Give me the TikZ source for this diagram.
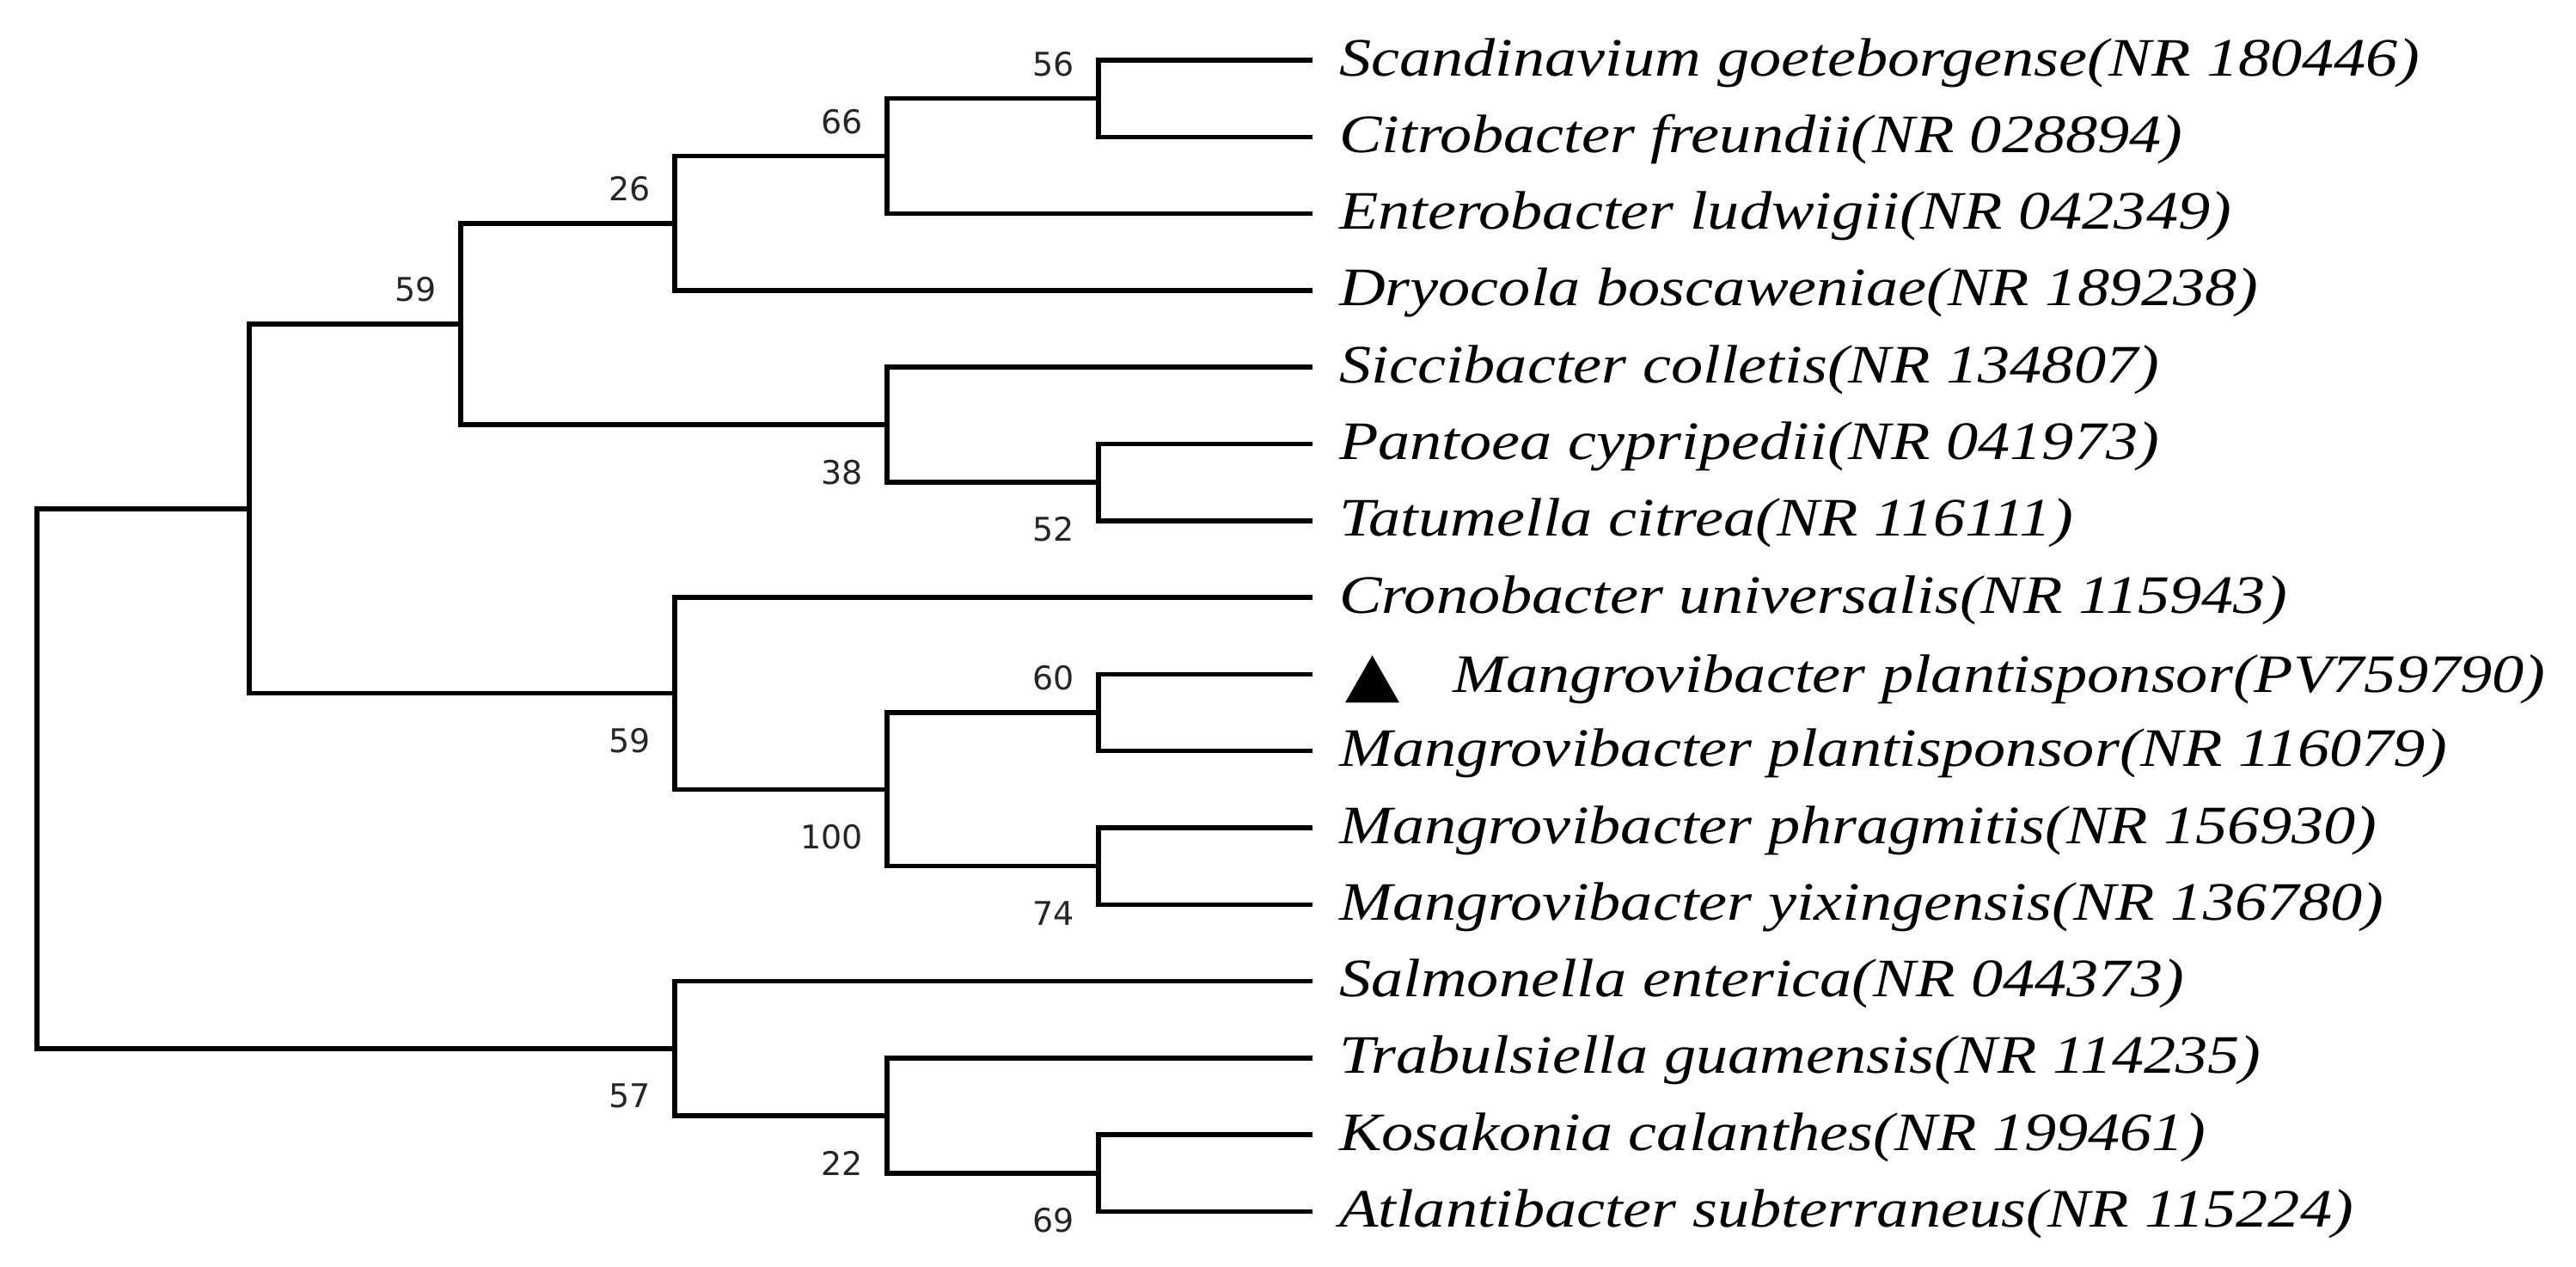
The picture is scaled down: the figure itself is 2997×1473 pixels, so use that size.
\documentclass[tikz,border=0pt]{standalone}
\usepackage{fontspec}
\usepackage{graphicx}
\setmainfont{Liberation Serif}
\newfontfamily\bsfont{DejaVu Sans}
\newcommand{\taxon}[1]{\scalebox{1.18}[1]{\fontsize{63pt}{70pt}\selectfont\itshape #1}}
\begin{document}
\begin{tikzpicture}[x=1pt,y=-1pt,
  br/.style={line width=5.5pt,line join=miter,line cap=butt,black},
  tax/.style={anchor=base west,inner sep=0pt},
  bs/.style={anchor=east,inner sep=0pt,text=black!85,font=\bsfont\fontsize{38pt}{40pt}\selectfont}]
\useasboundingbox[fill=white] (0,0) rectangle (2997,1473);
% leaves
\coordinate (l1) at (1527,70.0);
\coordinate (l2) at (1527,159.3);
\coordinate (l3) at (1527,248.6);
\coordinate (l4) at (1527,337.9);
\coordinate (l5) at (1527,427.2);
\coordinate (l6) at (1527,516.5);
\coordinate (l7) at (1527,605.8);
\coordinate (l8) at (1527,695.1);
\coordinate (l9) at (1527,784.4);
\coordinate (l10) at (1527,873.7);
\coordinate (l11) at (1527,963.0);
\coordinate (l12) at (1527,1052.3);
\coordinate (l13) at (1527,1141.6);
\coordinate (l14) at (1527,1230.9);
\coordinate (l15) at (1527,1320.2);
\coordinate (l16) at (1527,1409.5);
% internal nodes
\coordinate (n56) at (1278,114.65);
\coordinate (n66) at (1032,181.6);
\coordinate (n26) at (785,259.8);
\coordinate (n52) at (1278,561.15);
\coordinate (n38) at (1032,494.2);
\coordinate (n59a) at (536,377.0);
\coordinate (n60) at (1278,829.05);
\coordinate (n74) at (1278,1007.65);
\coordinate (n100) at (1032,918.35);
\coordinate (n59b) at (785,806.7);
\coordinate (nX) at (290,591.9);
\coordinate (n69) at (1278,1364.85);
\coordinate (n22) at (1032,1297.9);
\coordinate (n57) at (785,1219.75);
\coordinate (root) at (43,905.8);
% branches
\draw[br] (n56) |- (l1); \draw[br] (n56) |- (l2);
\draw[br] (n66) |- (n56); \draw[br] (n66) |- (l3);
\draw[br] (n26) |- (n66); \draw[br] (n26) |- (l4);
\draw[br] (n52) |- (l6); \draw[br] (n52) |- (l7);
\draw[br] (n38) |- (l5); \draw[br] (n38) |- (n52);
\draw[br] (n59a) |- (n26); \draw[br] (n59a) |- (n38);
\draw[br] (n60) |- (l9); \draw[br] (n60) |- (l10);
\draw[br] (n74) |- (l11); \draw[br] (n74) |- (l12);
\draw[br] (n100) |- (n60); \draw[br] (n100) |- (n74);
\draw[br] (n59b) |- (l8); \draw[br] (n59b) |- (n100);
\draw[br] (nX) |- (n59a); \draw[br] (nX) |- (n59b);
\draw[br] (n69) |- (l15); \draw[br] (n69) |- (l16);
\draw[br] (n22) |- (l14); \draw[br] (n22) |- (n69);
\draw[br] (n57) |- (l13); \draw[br] (n57) |- (n22);
\draw[br] (root) |- (nX); \draw[br] (root) |- (n57);
% bootstrap values
\node[bs] (b56) at ([shift={(-28,-40)}]n56) {56};
\node[bs] (b66) at ([shift={(-28,-40)}]n66) {66};
\node[bs] (b26) at ([shift={(-28,-40)}]n26) {26};
\node[bs] (b59a) at ([shift={(-28,-40)}]n59a) {59};
\node[bs] (b38) at ([shift={(-28,55)}]n38) {38};
\node[bs] (b52) at ([shift={(-28,55)}]n52) {52};
\node[bs] (b59b) at ([shift={(-28,55)}]n59b) {59};
\node[bs] (b60) at ([shift={(-28,-40)}]n60) {60};
\node[bs] (b100) at ([shift={(-28,55)}]n100) {100};
\node[bs] (b74) at ([shift={(-28,55)}]n74) {74};
\node[bs] (b57) at ([shift={(-28,55)}]n57) {57};
\node[bs] (b22) at ([shift={(-28,55)}]n22) {22};
\node[bs] (b69) at ([shift={(-28,55)}]n69) {69};
% taxa
\node[tax] (t1) at ([shift={(31,18)}]l1) {\taxon{Scandinavium goeteborgense(NR 180446)}};
\node[tax] (t2) at ([shift={(31,18)}]l2) {\taxon{Citrobacter freundii(NR 028894)}};
\node[tax] (t3) at ([shift={(31,18)}]l3) {\taxon{Enterobacter ludwigii(NR 042349)}};
\node[tax] (t4) at ([shift={(31,18)}]l4) {\taxon{Dryocola boscaweniae(NR 189238)}};
\node[tax] (t5) at ([shift={(31,18)}]l5) {\taxon{Siccibacter colletis(NR 134807)}};
\node[tax] (t6) at ([shift={(31,18)}]l6) {\taxon{Pantoea cypripedii(NR 041973)}};
\node[tax] (t7) at ([shift={(31,18)}]l7) {\taxon{Tatumella citrea(NR 116111)}};
\node[tax] (t8) at ([shift={(31,18)}]l8) {\taxon{Cronobacter universalis(NR 115943)}};
\coordinate (tri) at ([shift={(69.5,6)}]l9);
\fill[black] ([shift={(-31.5,27)}]tri) -- ([shift={(31.5,27)}]tri) -- ([shift={(0,-28)}]tri) -- cycle;
\node[tax] (t9) at ([shift={(163,21)}]l9) {\taxon{Mangrovibacter plantisponsor(PV759790)}};
\node[tax] (t10) at ([shift={(31,18)}]l10) {\taxon{Mangrovibacter plantisponsor(NR 116079)}};
\node[tax] (t11) at ([shift={(31,18)}]l11) {\taxon{Mangrovibacter phragmitis(NR 156930)}};
\node[tax] (t12) at ([shift={(31,18)}]l12) {\taxon{Mangrovibacter yixingensis(NR 136780)}};
\node[tax] (t13) at ([shift={(31,18)}]l13) {\taxon{Salmonella enterica(NR 044373)}};
\node[tax] (t14) at ([shift={(31,18)}]l14) {\taxon{Trabulsiella guamensis(NR 114235)}};
\node[tax] (t15) at ([shift={(31,18)}]l15) {\taxon{Kosakonia calanthes(NR 199461)}};
\node[tax] (t16) at ([shift={(31,18)}]l16) {\taxon{Atlantibacter subterraneus(NR 115224)}};
\end{tikzpicture}
\end{document}
